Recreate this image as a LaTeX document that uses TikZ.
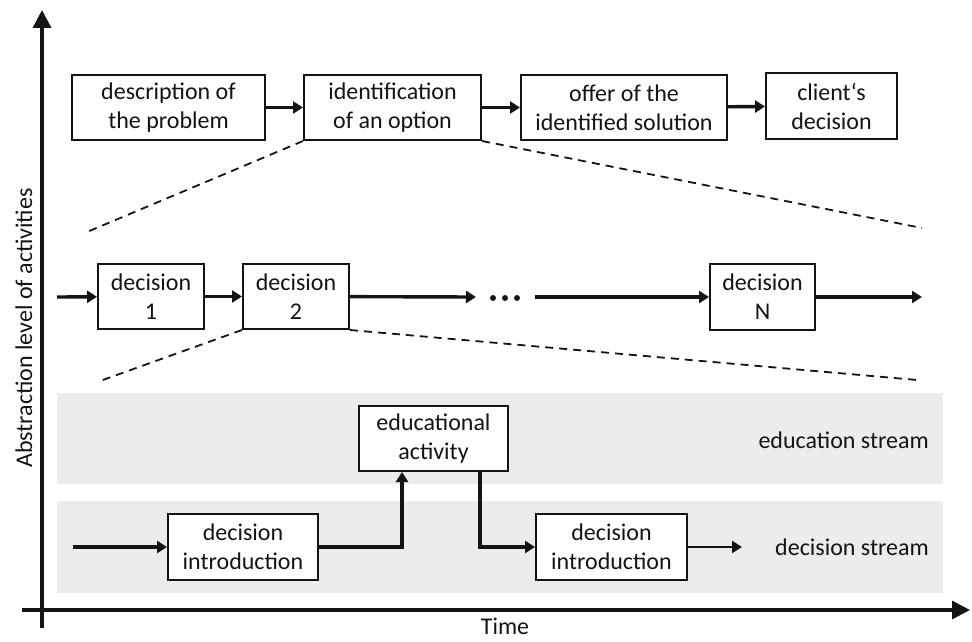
\documentclass[tikz,border=0pt]{standalone}
\usepackage{fontspec}
\setmainfont{Carlito}
\usetikzlibrary{arrows.meta}
\definecolor{ink}{HTML}{141414}
\definecolor{band}{HTML}{EBECEC}
\begin{document}
\begin{tikzpicture}[x=1pt,y=-1pt,
  box/.style={draw=ink, line width=2pt, fill=white, align=center, inner sep=0pt,
    font=\fontsize{24}{29}\selectfont, text=ink},
  arr/.style={draw=ink, line width=3.4pt, -{Triangle[length=10pt,width=12pt]}},
  dashline/.style={draw=ink, line width=1.8pt, dash pattern=on 8pt off 6pt},
  axisline/.style={draw=ink, line width=3.4pt, -{Triangle[length=18pt,width=18pt]}},
  lbl/.style={font=\fontsize{24}{29}\selectfont, text=ink, inner sep=0pt}]
\useasboundingbox (0,0) rectangle (972,642);

% bands
\fill[band] (57,393) rectangle (943,484);
\fill[band] (57,501) rectangle (943,593);

% axes
\coordinate (xs) at (22,610);
\coordinate (xe) at (970,610);
\coordinate (ys) at (42,628);
\coordinate (ye) at (42,10);
\draw[axisline] (xs) -- (xe);
\draw[axisline] (ys) -- (ye);
\node[lbl, rotate=90] (ylab) at (24,328) {Abstraction level of activities};
\node[lbl] (tlab) at (505,626) {Time};

% top row
\node[box, minimum width=193pt, minimum height=65pt] (p1) at (168.5,107.5) {description of\\the problem};
\node[box, minimum width=177pt, minimum height=65pt] (p2) at (392.5,107.5) {identification\\of an option};
\node[box, minimum width=206pt, minimum height=65pt] (p3) at (624,107.5) {offer of the\\identified solution};
\node[box, minimum width=131pt, minimum height=66pt] (p4) at (831.5,106) {client‘s\\decision};
\draw[arr] (p1) -- (p2);
\draw[arr] (p2) -- (p3);
\draw[arr] (p3) -- (p4);

\coordinate (z1l) at (87,232);
\coordinate (z1r) at (922,228);
\draw[dashline] (p2.south west) -- (z1l);
\draw[dashline] (p2.south east) -- (z1r);

% middle row
\node[box, minimum width=106pt, minimum height=65pt] (d1) at (151,296.5) {decision\\1};
\node[box, minimum width=106pt, minimum height=65pt] (d2) at (296,296.5) {decision\\2};
\node[box, minimum width=105pt, minimum height=66pt] (dn) at (762.5,297) {decision\\N};
\coordinate (din) at (57,297);
\coordinate (dmid) at (476,297);
\coordinate (dres) at (535,297);
\coordinate (dout) at (922,297);
\draw[arr] (din) -- (d1);
\draw[arr] (d1) -- (d2);
\draw[arr] (d2) -- (dmid);
\fill[ink] (493,298) circle (3pt) (505,298) circle (3pt) (517,298) circle (3pt);
\draw[arr] (dres) -- (dn);
\draw[arr] (dn) -- (dout);

\coordinate (z2l) at (100,381);
\coordinate (z2r) at (917,380);
\draw[dashline] (d2.south west) -- (z2l);
\draw[dashline] (d2.south east) -- (z2r);

% bottom streams
\node[box, minimum width=149pt, minimum height=65pt] (edu) at (433.5,438.5) {educational\\activity};
\node[box, minimum width=150pt, minimum height=66pt] (di1) at (243,547) {decision\\introduction};
\node[box, minimum width=151pt, minimum height=66pt] (di2) at (611.5,547) {decision\\introduction};
\coordinate (sin) at (73,547);
\coordinate (sout) at (742,547);
\draw[arr] (sin) -- (di1);
\draw[arr] (di1.east) -| ([xshift=-31.5pt]edu.south);
\draw[arr] ([xshift=46.5pt]edu.south) |- (di2.west);
\draw[arr, line width=2.4pt] (di2) -- (sout);

\node[lbl, anchor=east] (es) at (929,440) {education stream};
\node[lbl, anchor=east] (ds) at (929,547) {decision stream};
\end{tikzpicture}
\end{document}
